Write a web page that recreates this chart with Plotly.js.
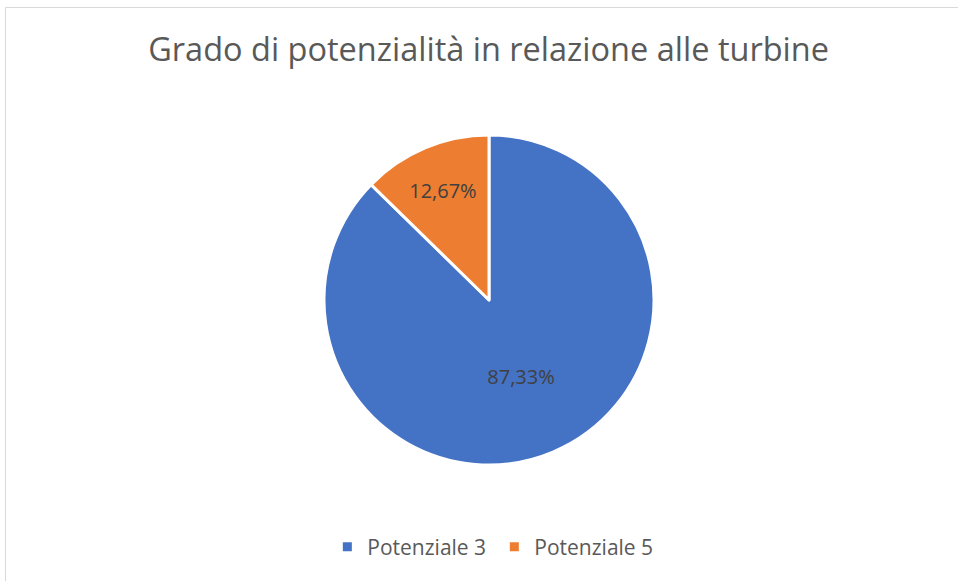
<!DOCTYPE html>
<html>
<head>
<meta charset="utf-8">
<script src="https://cdn.plot.ly/plotly-3.0.1.min.js"></script>
<style>html,body{margin:0;padding:0;background:#fff;}#chart{width:958px;height:581px;}</style>
</head>
<body>
<div id="chart"></div>
<script>
const categories = ["Potenziale 3", "Potenziale 5"];
const values = [87.33, 12.67];
const colors = ["#4472C4", "#ED7D31"];
const titleText = "Grado di potenzialità in relazione alle turbine";

const W = 958, H = 581;
const cx = 489, cy = 300, r = 165;

const data = [{
  type: "pie",
  labels: categories,
  values: values,
  sort: false,
  direction: "clockwise",
  rotation: 0,
  marker: {colors: colors, line: {color: "#ffffff", width: 3}},
  textposition: "inside",
  insidetextorientation: "horizontal",
  texttemplate: "%{percent:.2%}",
  textfont: {family: "Open Sans, sans-serif", size: 20, color: "#404040"},
  hoverinfo: "label+percent",
  domain: {x: [(cx - r) / W, (cx + r) / W], y: [(H - cy - r) / H, (H - cy + r) / H]}
}];

const layout = {
  width: W, height: H,
  margin: {l: 0, r: 0, t: 0, b: 0},
  paper_bgcolor: "#ffffff",
  separators: ",.",
  title: {
    text: titleText,
    font: {family: "Open Sans, sans-serif", size: 32.5, color: "#595959"},
    x: 0.51, xanchor: "center", xref: "paper",
    y: 1 - 50 / H, yanchor: "middle", yref: "paper"
  },
  showlegend: true,
  legend: {
    orientation: "h",
    x: 0.516, xanchor: "center",
    y: 1 - 547 / H, yanchor: "middle",
    font: {family: "Open Sans, sans-serif", size: 21, color: "#595959"},
    itemwidth: 30,
    entrywidth: 122, entrywidthmode: "pixels"
  },
  shapes: [{
    type: "rect", xref: "paper", yref: "paper",
    x0: 5.5 / W, x1: 1.05, y0: -0.05, y1: 1 - 7.5 / H,
    line: {color: "#d9d9d9", width: 1}
  }]
};

Plotly.newPlot("chart", data, layout, {displayModeBar: false});
</script>
</body>
</html>
